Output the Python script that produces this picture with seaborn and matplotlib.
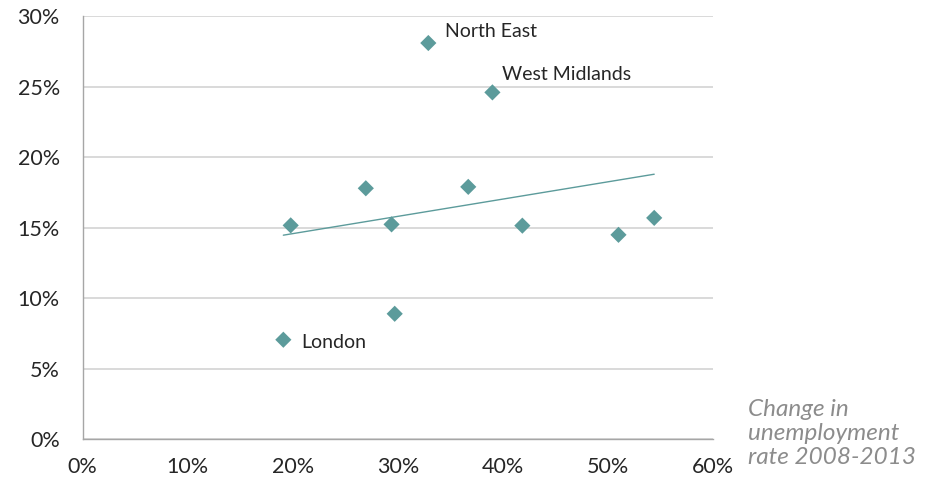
import numpy as np
import pandas as pd
import matplotlib
matplotlib.use("Agg")
import matplotlib.pyplot as plt
import seaborn as sns
from matplotlib.ticker import PercentFormatter

# change in unemployment rate 2008-2013 (%) vs second measure (%), by region
change_rate = [32.9, 39.0, 19.8, 26.95, 29.4, 36.7, 41.85, 51.0, 54.4, 29.7, 19.1]
y_value = [28.1, 24.6, 15.17, 17.8, 15.24, 17.9, 15.15, 14.5, 15.7, 8.9, 7.06]
region = ["North East", "West Midlands", "", "", "", "", "", "", "", "", "London"]

x_ticks = [0, 10, 20, 30, 40, 50, 60]
y_ticks = [0, 5, 10, 15, 20, 25, 30]

teal = "#5c9b9b"

df = pd.DataFrame({"change": change_rate, "value": y_value, "region": region})

sns.set_style("white")
plt.rcParams["font.family"] = ["Lato", "DejaVu Sans"]

fig = plt.figure(figsize=(9.3, 4.86), dpi=100)
ax = fig.add_axes([0.0889, 0.0961, 0.6778, 0.8705])

# trend line first, points on top
sns.regplot(data=df, x="change", y="value", scatter=False, ci=None,
            color=teal, line_kws={"linewidth": 1.0}, ax=ax)
sns.scatterplot(data=df, x="change", y="value", marker="D", s=68,
                color=teal, edgecolor="none", ax=ax, zorder=3)

# labels next to the notable regions
offsets = {"North East": (12, 8), "West Midlands": (7, 13), "London": (13, -2)}
for _, row in df.iterrows():
    if row["region"]:
        ax.annotate(row["region"], (row["change"], row["value"]),
                    xytext=offsets[row["region"]], textcoords="offset points",
                    ha="left", va="center", fontsize=14, color="#262626")

ax.set_xlim(0, 60)
ax.set_ylim(0, 30)
ax.set_xticks(x_ticks)
ax.set_yticks(y_ticks)
ax.xaxis.set_major_formatter(PercentFormatter(decimals=0))
ax.yaxis.set_major_formatter(PercentFormatter(decimals=0))
ax.set_xlabel("")
ax.set_ylabel("")

ax.yaxis.grid(True, color="#d9d9d9", linewidth=1.4)
ax.xaxis.grid(False)
ax.set_axisbelow(True)
for side in ["top", "right"]:
    ax.spines[side].set_visible(False)
for side in ["left", "bottom"]:
    ax.spines[side].set_color("#a6a6a6")
    ax.spines[side].set_linewidth(1.0)

ax.tick_params(axis="both", direction="out", length=6.5, width=1.0,
               color="#a6a6a6", labelsize=15.5, labelcolor="#262626")
ax.tick_params(axis="y", pad=10)
ax.tick_params(axis="x", pad=6)

fig.text(0.804, 0.108, "Change in\nunemployment\nrate 2008-2013", ha="left",
         va="center", fontsize=17.5, style="italic", color="#8c8c8c",
         linespacing=1.2)

fig.savefig("out.png", dpi=100)
